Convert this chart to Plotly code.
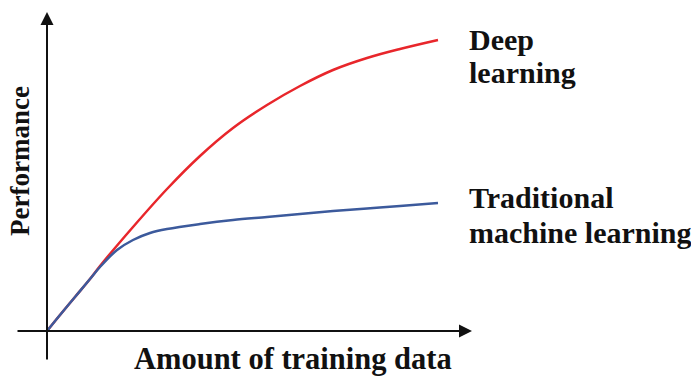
import plotly.graph_objects as go

# Data (arbitrary units: amount of training data vs performance)
deep_x = [0, 13, 28, 43, 53, 86, 120, 153, 186, 220, 253, 286, 320, 353, 391]
deep_y = [0, 16, 34, 52, 65, 104, 142, 175, 203, 226, 245, 261, 273, 282, 291]

trad_x = [0, 13, 28, 43, 53, 70, 86, 103, 120, 153, 186, 220, 253, 286, 320, 353, 391]
trad_y = [0, 16, 34, 52, 64, 81, 91, 98, 102, 107, 111, 114, 117, 120, 122.5, 125, 128]

deep_label = ["Deep", "learning"]
trad_label = ["Traditional", "machine learning"]
x_title = "Amount of training data"
y_title = "Performance"

FONT = "Liberation Serif"
fig = go.Figure()
fig.add_trace(go.Scatter(x=deep_x, y=deep_y, mode="lines", line=dict(color="#e8262b", width=2.5, shape="spline"),
                         showlegend=False, hoverinfo="skip"))
fig.add_trace(go.Scatter(x=trad_x, y=trad_y, mode="lines", line=dict(color="#3c5a9c", width=2.5, shape="spline"),
                         showlegend=False, hoverinfo="skip"))

# axis arrows
fig.add_annotation(x=425, y=0, ax=-31, ay=0, xref="x", yref="y", axref="x", ayref="y",
                   showarrow=True, arrowhead=2, arrowsize=1.3, arrowwidth=2, arrowcolor="#111", text="")
fig.add_annotation(x=0, y=319, ax=0, ay=-30, xref="x", yref="y", axref="x", ayref="y",
                   showarrow=True, arrowhead=2, arrowsize=1.3, arrowwidth=2, arrowcolor="#111", text="")

tf = dict(family=FONT, size=30, color="#111", weight="bold")
for txt, yy in zip(deep_label, [292, 259]):
    fig.add_annotation(x=420, y=yy, xref="x", yref="y", text=txt, showarrow=False,
                       xanchor="left", yanchor="middle", align="left", font=tf)
for txt, yy in zip(trad_label, [134, 99]):
    fig.add_annotation(x=420, y=yy, xref="x", yref="y", text=txt, showarrow=False,
                       xanchor="left", yanchor="middle", align="left", font=tf)
fig.add_annotation(x=246, y=-28, xref="x", yref="y", text=x_title, showarrow=False,
                   xanchor="center", yanchor="middle", font=dict(family=FONT, size=30.5, color="#111", weight="bold"))
fig.add_annotation(x=-27, y=170, xref="x", yref="y", text=y_title, showarrow=False, textangle=-90,
                   xanchor="center", yanchor="middle", font=dict(family=FONT, size=27, color="#111", weight="bold"))

fig.update_xaxes(range=[-37, 433], visible=False)
fig.update_yaxes(range=[-39, 326], visible=False)
fig.update_layout(width=691, height=376, margin=dict(l=10, r=211, t=5, b=6),
                  plot_bgcolor="white", paper_bgcolor="white")
fig.write_html("out.html", config={"displayModeBar": False},
               post_script="document.body.style.margin='0';document.body.style.overflow='hidden';")
